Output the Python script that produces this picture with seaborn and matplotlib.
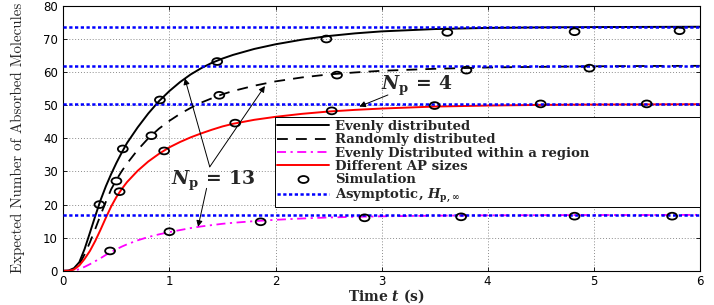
import matplotlib
matplotlib.use("Agg")
import pandas as pd
import matplotlib.pyplot as plt
import seaborn as sns
from matplotlib.lines import Line2D
from matplotlib.markers import MarkerStyle
from matplotlib.transforms import Affine2D

# analytical curves
t = [0, 0.05, 0.1, 0.15, 0.2, 0.25, 0.3, 0.35, 0.4, 0.45, 0.5, 0.55, 0.6, 0.7, 0.8,
     0.9, 1.0, 1.1, 1.2, 1.3, 1.4, 1.5, 1.6, 1.8, 2.0, 2.25, 2.5, 2.75, 3.0, 3.5,
     4.0, 4.5, 5.0, 5.5, 6.0]
evenly = [0, 0.1, 0.8, 2.6, 6.6, 11.5, 16.5, 21.3, 25.5, 29.2, 32.6, 35.7, 38.6, 43.3, 47.5,
          51.2, 54.3, 57.0, 59.3, 61.2, 62.8, 64.1, 65.2, 67.0, 68.4, 69.8, 70.9, 71.7, 72.3, 73.0,
          73.35, 73.5, 73.6, 73.65, 73.7]
randomly = [0, 0, 0.5, 1.9, 5.0, 8.6, 12.6, 16.8, 20.8, 24.6, 27.5, 30.1, 32.4, 36.5, 40.0,
            42.9, 45.3, 47.4, 49.2, 50.8, 52.1, 53.3, 54.3, 55.9, 57.2, 58.4, 59.3, 59.9, 60.4, 61.0,
            61.4, 61.6, 61.75, 61.85, 61.9]
region = [0, 0, 0.1, 0.5, 1.2, 2.0, 2.9, 3.8, 4.8, 5.7, 6.5, 7.3, 8.0, 9.2, 10.2,
          11.0, 11.7, 12.3, 12.9, 13.4, 13.8, 14.2, 14.5, 15.0, 15.4, 15.8, 16.1, 16.3, 16.45, 16.65,
          16.75, 16.8, 16.85, 16.85, 16.9]
ap_sizes = [0, 0, 0.4, 1.6, 3.6, 6.0, 9.0, 12.4, 16.0, 19.4, 22.3, 24.7, 26.8, 30.2, 33.0,
            35.3, 37.3, 38.9, 40.3, 41.5, 42.6, 43.6, 44.4, 45.6, 46.5, 47.4, 48.1, 48.6, 49.0, 49.6,
            49.9, 50.1, 50.2, 50.25, 50.3]

asymptotes = [73.7, 61.9, 50.3, 16.9]

# simulation points
sim_t_even = [0.34, 0.56, 0.91, 1.45, 2.48, 3.62, 4.82, 5.81]
sim_even = [20.0, 36.8, 51.6, 63.2, 70.0, 72.0, 72.2, 72.5]
sim_t_rand = [0.50, 0.83, 1.47, 2.58, 3.80, 4.96]
sim_rand = [27.1, 40.8, 53.0, 59.1, 60.6, 61.2]
sim_t_ap = [0.53, 0.95, 1.62, 2.53, 3.50, 4.50, 5.50]
sim_ap = [23.9, 36.2, 44.6, 48.3, 49.9, 50.4, 50.4]
sim_t_reg = [0.44, 1.0, 1.86, 2.84, 3.75, 4.82, 5.74]
sim_reg = [6.0, 11.8, 14.8, 16.0, 16.3, 16.5, 16.5]

labels = ["Evenly distributed", "Randomly distributed",
          "Evenly Distributed within a region", "Different AP sizes",
          "Simulation", r"Asymptotic, $H_{\mathrm{p},\infty}$"]

sns.set_theme(style="ticks")
plt.rcParams["font.family"] = ["DejaVu Serif"]
plt.rcParams["mathtext.fontset"] = "custom"
plt.rcParams["mathtext.rm"] = "DejaVu Serif:bold"
plt.rcParams["mathtext.bf"] = "DejaVu Serif:bold"
plt.rcParams["mathtext.it"] = "DejaVu Serif:italic:bold"

fig = plt.figure(figsize=(7.14, 3.05), dpi=100)
ax = fig.add_axes([0.0888, 0.1121, 0.8912, 0.8686])

curves = pd.DataFrame({"t": t, "evenly": evenly, "randomly": randomly,
                       "region": region, "ap": ap_sizes})

dash_ls = (0, (6, 4.5))
dot_ls = (0, (1.3, 1.0))
dashdot_ls = (0, (5, 2.5, 1.2, 2.5))

sns.lineplot(data=curves, x="t", y="evenly", color="black", lw=1.4, ax=ax, zorder=2)
sns.lineplot(data=curves, x="t", y="randomly", color="black", lw=1.3, linestyle=dash_ls, ax=ax, zorder=2)
sns.lineplot(data=curves, x="t", y="region", color="#ff00ff", lw=1.3, linestyle=dashdot_ls, ax=ax, zorder=2)
sns.lineplot(data=curves, x="t", y="ap", color="#ff0000", lw=1.4, ax=ax, zorder=2)

for a in asymptotes:
    ax.axhline(a, color="#0000ff", lw=1.8, linestyle=dot_ls, zorder=3)

circ = MarkerStyle("o", transform=Affine2D().scale(1.45, 1.0))
for xs, ys in [(sim_t_even, sim_even), (sim_t_rand, sim_rand),
               (sim_t_ap, sim_ap), (sim_t_reg, sim_reg)]:
    sns.scatterplot(x=xs, y=ys, marker=circ, s=24, facecolor="none",
                    edgecolor="black", linewidth=1.3, ax=ax, zorder=5)

# annotations
arrow = dict(arrowstyle="-|>", color="black", lw=0.7, mutation_scale=9, shrinkA=0, shrinkB=0)
ax.annotate("", xy=(1.145, 58.1), xytext=(1.38, 31.4), arrowprops=arrow)
ax.annotate("", xy=(1.90, 55.8), xytext=(1.38, 31.4), arrowprops=arrow)
ax.annotate("", xy=(1.27, 13.3), xytext=(1.35, 24.9), arrowprops=arrow)
ax.annotate("", xy=(2.79, 49.6), xytext=(3.06, 53.1), arrowprops=arrow)
ax.text(1.41, 27.1, r"$N_{\mathrm{p}}\,=\,13$", ha="center", va="center", fontsize=13.5)
ax.text(2.99, 55.8, r"$N_{\mathrm{p}}\,=\,4$", ha="left", va="center", fontsize=13.5)

ax.set_xlim(0, 6)
ax.set_ylim(0, 80)
ax.set_xticks(range(0, 7))
ax.set_yticks(range(0, 81, 10))
ax.grid(True, color="#8c8c8c", linestyle=(0, (1, 2)), lw=0.7)
ax.set_axisbelow(True)
ax.tick_params(direction="in", length=3, width=0.6, top=True, right=True,
               labelsize=8.5, colors="black")
ax.tick_params(axis="x", pad=3)
ax.tick_params(axis="y", pad=4)
for lab in ax.get_xticklabels() + ax.get_yticklabels():
    lab.set_fontfamily("DejaVu Sans")
for sp in ax.spines.values():
    sp.set_visible(True)
    sp.set_color("black")
    sp.set_linewidth(0.8)

ax.set_xlabel(r"Time $t$ (s)", fontsize=10, fontweight="bold", labelpad=0)
ax.xaxis.set_label_coords(0.507, -0.063)
ax.set_ylabel("Expected Number of Absorbed Molecules", fontfamily="cmr10",
              fontsize=10.8, labelpad=13)

handles = [
    Line2D([], [], color="black", lw=1.4),
    Line2D([], [], color="black", lw=1.3, linestyle=dash_ls),
    Line2D([], [], color="#ff00ff", lw=1.3, linestyle=dashdot_ls),
    Line2D([], [], color="#ff0000", lw=1.4),
    Line2D([], [], color="black", lw=0, marker=circ, markersize=5,
           markerfacecolor="none", markeredgewidth=1.3),
    Line2D([], [], color="#0000ff", lw=1.8, linestyle=dot_ls),
]
leg = ax.legend(handles, labels, loc="upper left", mode="expand",
                bbox_to_anchor=(0.332, 0.25, 0.668, 0.33),
                prop={"family": "DejaVu Serif", "weight": "bold", "size": 9.5},
                fancybox=False, framealpha=1, edgecolor="black", borderpad=0.2,
                labelspacing=0.03, handlelength=3.9, handletextpad=0.45,
                borderaxespad=0)
leg.get_frame().set_linewidth(0.7)
leg.set_zorder(10)

fig.savefig("out.png", dpi=100)
